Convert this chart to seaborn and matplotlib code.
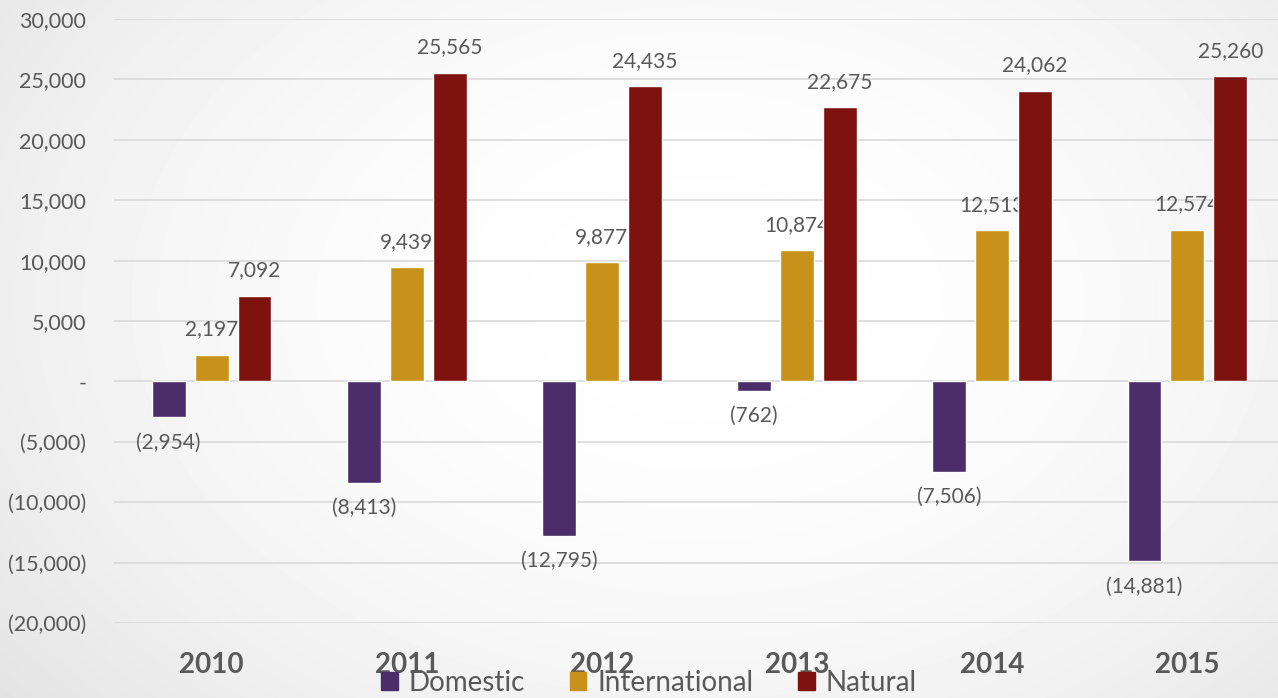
import numpy as np
import pandas as pd
import matplotlib
matplotlib.use('Agg')
import matplotlib.pyplot as plt
import seaborn as sns

# data
years = ['2010', '2011', '2012', '2013', '2014', '2015']
domestic = [-2954, -8413, -12795, -762, -7506, -14881]
international = [2197, 9439, 9877, 10874, 12513, 12574]
natural = [7092, 25565, 24435, 22675, 24062, 25260]

series = ['Domestic', 'International', 'Natural']
colors = ['#4B2D69', '#C8921A', '#7D120E']

df = pd.DataFrame({
    'Year': years * 3,
    'Value': domestic + international + natural,
    'Series': ['Domestic'] * 6 + ['International'] * 6 + ['Natural'] * 6,
})

sns.set_theme(style='white')
plt.rcParams['font.family'] = ['Lato', 'DejaVu Sans']
text_col = '#595959'

fig = plt.figure(figsize=(12.78, 6.98), dpi=100)

# radial grey-to-white background
bg = fig.add_axes([0, 0, 1, 1], zorder=-10)
yy, xx = np.mgrid[0:698, 0:1278]
r = np.sqrt(((xx - 700) / 800.0) ** 2 + ((yy - 300) / 560.0) ** 2)
shade = 1 - 0.085 * np.clip(r, 0, 1.3) ** 2
bg.imshow(shade, cmap='gray', vmin=0, vmax=1, aspect='auto')
bg.axis('off')

ax = fig.add_axes([114 / 1278, 75 / 698, 1171 / 1278, 604 / 698])
ax.patch.set_alpha(0)

sns.barplot(data=df, x='Year', y='Value', hue='Series', hue_order=series,
            palette=colors, width=0.66, gap=0.21, ax=ax, saturation=1)

def fmt(v):
    return f'{v:,.0f}' if v >= 0 else f'({-v:,.0f})'

for k, cont in enumerate(ax.containers):
    for b in cont:
        b.set_zorder(2 + k)
    vals = [b.get_height() for b in cont]
    txts = ax.bar_label(cont, labels=[fmt(v) for v in vals], padding=11,
                        fontsize=15, color=text_col)
    for t in txts:
        t.set_zorder(2.5 + k)

ax.set_ylim(-20000, 30000)
ax.set_xlim(-0.5, 5.5)
ticks = np.arange(-20000, 30001, 5000)
ax.set_yticks(ticks)
ax.set_yticklabels(['-' if t == 0 else fmt(t) for t in ticks], fontsize=15.5, color=text_col)
ax.tick_params(axis='y', length=0, pad=20)
ax.tick_params(axis='x', length=0, pad=21)
for lab in ax.get_xticklabels():
    lab.set_fontsize(20)
    lab.set_fontweight('bold')
    lab.set_color(text_col)
ax.yaxis.grid(True, color='#D9D9D9', linewidth=1.2)
ax.set_axisbelow(True)
for s in ax.spines.values():
    s.set_visible(False)
ax.set_xlabel('')
ax.set_ylabel('')

ax.legend_.remove()
handles = [plt.Rectangle((0, 0), 1, 1, color=c) for c in colors]
fig.legend(handles, series, loc='center', bbox_to_anchor=(649 / 1278, 1 - 683 / 698),
           ncol=3, frameon=False, fontsize=20, handlelength=0.6, handleheight=0.6,
           handletextpad=0.4, columnspacing=1.6, labelcolor=text_col)

fig.savefig('out.png', dpi=100)
